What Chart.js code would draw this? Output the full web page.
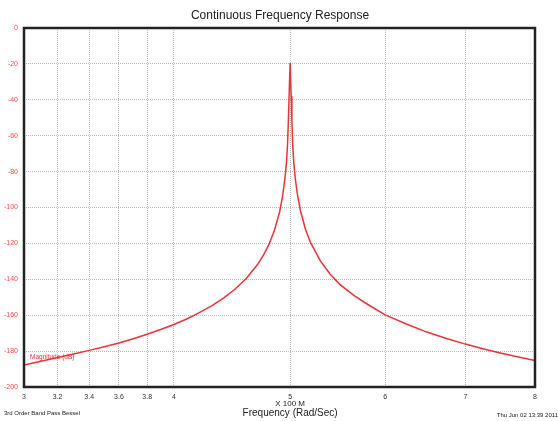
<!DOCTYPE html>
<html>
<head>
<meta charset="utf-8">
<script src="https://cdn.jsdelivr.net/npm/chart.js@4.4.0/dist/chart.umd.min.js"></script>
<style>
  html, body { margin: 0; padding: 0; background: #fff; }
  #wrap { width: 558px; height: 421px; position: relative; }
</style>
</head>
<body>
<div id="wrap"><canvas id="chart"></canvas></div>
<script>
// Frequency (x 100 M rad/s) and magnitude (dB)
const freqs = [3.0, 3.1, 3.2, 3.3, 3.4, 3.5, 3.6, 3.7, 3.8, 3.9, 4.0, 4.1, 4.2, 4.3, 4.4, 4.5, 4.6, 4.7, 4.75,
  4.8, 4.85, 4.9, 4.93, 4.95, 4.965, 4.975, 4.983, 4.99, 5.0, 5.01, 5.017, 5.025, 5.035,
  5.05, 5.07, 5.1, 5.15, 5.2, 5.3, 5.4, 5.5, 5.65, 5.8, 6.0, 6.25, 6.5, 6.75, 7.0, 7.25, 7.5, 7.75, 8.0];
const magnitude = [-187.7, -185.6, -183.6, -181.6, -179.6, -177.6, -175.5, -173.1, -170.6, -168.0, -165.2,
  -162.1, -158.6, -154.8, -150.5, -145.4, -139.3, -131.5, -126.6,
  -120.7, -113.0, -102.5, -93.0, -84.0, -75.0, -65.0, -52.0, -38.0, -19.5, -38.0, -52.0, -65.0, -75.0,
  -84.0, -92.6, -101.8, -112.2, -119.6, -129.9, -137.2, -142.8, -149.0, -153.9, -159.8, -164.9, -169.4,
  -173.0, -176.1, -178.8, -181.2, -183.3, -185.3];
const xTicks = [3, 3.2, 3.4, 3.6, 3.8, 4, 5, 6, 7, 8];
const yTicks = [0, -20, -40, -60, -80, -100, -120, -140, -160, -180, -200];

const points = freqs.map((f, i) => ({ x: f, y: magnitude[i] }));

// Frame, title and footer texts
const decorations = {
  id: 'decorations',
  afterDraw(chart) {
    const ctx = chart.ctx;
    const a = chart.chartArea;
    const xs = chart.scales.x;
    const ys = chart.scales.y;
    ctx.save();
    ctx.strokeStyle = '#222';
    ctx.lineWidth = 2.5;
    ctx.strokeRect(a.left, a.top, a.right - a.left, a.bottom - a.top);

    ctx.fillStyle = '#222';
    ctx.textAlign = 'center';
    ctx.textBaseline = 'middle';
    ctx.font = '12px "Liberation Sans", Arial, sans-serif';
    ctx.fillText('Continuous Frequency Response', 280, 16);

    ctx.font = '8px "Liberation Sans", Arial, sans-serif';
    ctx.fillText('X 100 M', xs.getPixelForValue(5), 404);
    ctx.font = '10px "Liberation Sans", Arial, sans-serif';
    ctx.fillText('Frequency (Rad/Sec)', xs.getPixelForValue(5), 413);

    ctx.font = '6px "Liberation Sans", Arial, sans-serif';
    ctx.textAlign = 'left';
    ctx.fillText('3rd Order Band Pass Bessel', 4, 413);
    ctx.textAlign = 'right';
    ctx.fillText('Thu Jun 02 13:39 2011', 558, 415);

    ctx.fillStyle = '#e8333a';
    ctx.textAlign = 'left';
    ctx.font = '6.5px "Liberation Sans", Arial, sans-serif';
    ctx.fillText('Magnitude (dB)', 30, ys.getPixelForValue(-183.3));
    ctx.restore();
  }
};

new Chart(document.getElementById('chart'), {
  type: 'line',
  data: {
    datasets: [{
      label: 'Magnitude (dB)',
      data: points,
      borderColor: '#e8333a',
      borderWidth: 1.5,
      pointRadius: 0,
      tension: 0,
      fill: false
    }]
  },
  options: {
    responsive: true,
    maintainAspectRatio: false,
    animation: false,
    layout: { padding: { top: 28, right: 23, left: 0, bottom: 0 } },
    plugins: {
      legend: { display: false },
      title: { display: false },
      tooltip: { enabled: false }
    },
    scales: {
      x: {
        type: 'logarithmic',
        min: 3,
        max: 8,
        afterBuildTicks(scale) {
          scale.ticks = xTicks.map(v => ({ value: v }));
        },
        afterFit(scale) { scale.height = 34; },
        border: { display: false, dash: [1, 1] },
        grid: {
          color: '#bdbdbd',
          lineWidth: 1,
          drawTicks: false
        },
        ticks: {
          autoSkip: false,
          maxRotation: 0,
          padding: 6,
          color: '#333',
          font: { size: 7, family: '"Liberation Sans", Arial, sans-serif' },
          callback: v => String(v)
        }
      },
      y: {
        min: -200,
        max: 0,
        afterBuildTicks(scale) {
          scale.ticks = yTicks.map(v => ({ value: v }));
        },
        afterFit(scale) { scale.width = 24; },
        border: { display: false, dash: [1, 1] },
        grid: {
          color: '#bdbdbd',
          lineWidth: 1,
          drawTicks: false
        },
        ticks: {
          padding: 6,
          color: '#ff4a4a',
          font: { size: 7, family: '"Liberation Sans", Arial, sans-serif' }
        }
      }
    }
  },
  plugins: [decorations]
});
</script>
</body>
</html>
